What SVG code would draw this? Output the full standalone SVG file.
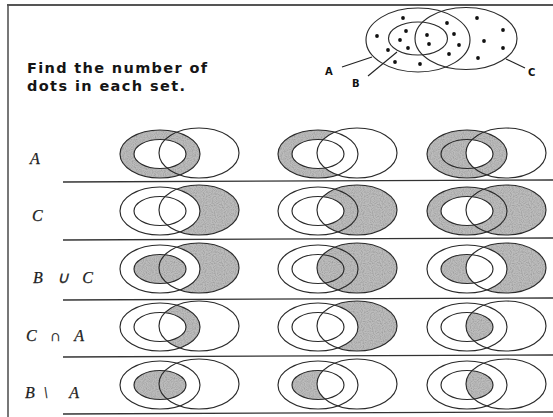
<svg xmlns="http://www.w3.org/2000/svg" width="553" height="417" viewBox="0 0 553 417">
<style>
  .ln{fill:none;stroke:#2a2a2a;stroke-width:1.15}
  .sh{fill:#bcbcbc;filter:url(#grain)}
  .hd{font-family:"DejaVu Sans",Verdana,sans-serif;font-weight:bold;font-size:14.5px;fill:#151515}
  .lb{font-family:"Liberation Serif","Times New Roman",serif;font-style:italic;font-size:16px;fill:#222;stroke:#222;stroke-width:0.25}
  .tag{font-family:"DejaVu Sans",Verdana,sans-serif;font-weight:bold;font-size:10px;fill:#111}
  .sep{stroke:#333;stroke-width:1.3}
  .frame{fill:none;stroke:#555}
  .dot{fill:#111}
  .lead{stroke:#222;stroke-width:1.1;fill:none}
</style>
<defs>
  <!-- speckled grey used for the shaded regions -->
  <filter id="grain" x="-5%" y="-5%" width="110%" height="110%">
    <feTurbulence type="fractalNoise" baseFrequency="0.9" numOctaves="1" seed="4" result="n"/>
    <feColorMatrix in="n" type="matrix" values="0 0 0 0 0.33  0 0 0 0 0.33  0 0 0 0 0.33  2.2 0 0 0 -0.85" result="dk"/>
    <feComposite in="dk" in2="SourceAlpha" operator="in" result="dk2"/>
    <feMerge><feMergeNode in="SourceGraphic"/><feMergeNode in="dk2"/></feMerge>
  </filter>

  <!-- set outlines in local coordinates: A (outer left), B (inner), C (right) -->
  <ellipse id="eA" cx="0" cy="0" rx="40" ry="24"/>
  <ellipse id="eB" cx="0" cy="0" rx="26" ry="14.5"/>
  <ellipse id="eC" cx="39" cy="-1" rx="40" ry="25"/>
  <g id="rings"><use href="#eA"/><use href="#eB"/><use href="#eC"/></g>
  <clipPath id="cC"><use href="#eC"/></clipPath>

  <mask id="mAnB" maskUnits="userSpaceOnUse" x="-60" y="-40" width="160" height="80">
    <use href="#eA" fill="#fff"/><use href="#eB" fill="#000"/>
  </mask>
  <mask id="mAnBC" maskUnits="userSpaceOnUse" x="-60" y="-40" width="160" height="80">
    <use href="#eA" fill="#fff"/><use href="#eB" fill="#000"/><use href="#eC" fill="#000"/>
  </mask>
  <mask id="mAnBiC" maskUnits="userSpaceOnUse" x="-60" y="-40" width="160" height="80">
    <use href="#eA" fill="#fff"/><use href="#eB" fill="#000" clip-path="url(#cC)"/>
  </mask>
  <mask id="mCnA" maskUnits="userSpaceOnUse" x="-60" y="-40" width="160" height="80">
    <use href="#eC" fill="#fff"/><use href="#eA" fill="#000"/>
  </mask>
  <mask id="mCnB" maskUnits="userSpaceOnUse" x="-60" y="-40" width="160" height="80">
    <use href="#eC" fill="#fff"/><use href="#eB" fill="#000"/>
  </mask>
  <mask id="mACnB" maskUnits="userSpaceOnUse" x="-60" y="-40" width="160" height="80">
    <use href="#eA" fill="#fff"/><use href="#eC" fill="#fff"/><use href="#eB" fill="#000"/>
  </mask>
  <mask id="mBuCnA" maskUnits="userSpaceOnUse" x="-60" y="-40" width="160" height="80">
    <use href="#eC" fill="#fff"/><use href="#eA" fill="#000"/><use href="#eB" fill="#fff"/>
  </mask>
  <mask id="mAiCnB" maskUnits="userSpaceOnUse" x="-60" y="-40" width="160" height="80">
    <use href="#eA" fill="#fff" clip-path="url(#cC)"/><use href="#eB" fill="#000"/>
  </mask>
  <mask id="mBnC" maskUnits="userSpaceOnUse" x="-60" y="-40" width="160" height="80">
    <use href="#eB" fill="#fff"/><use href="#eC" fill="#000"/>
  </mask>
  <mask id="mBiC" maskUnits="userSpaceOnUse" x="-60" y="-40" width="160" height="80">
    <use href="#eB" fill="#fff" clip-path="url(#cC)"/>
  </mask>
  <mask id="mB" maskUnits="userSpaceOnUse" x="-60" y="-40" width="160" height="80">
    <use href="#eB" fill="#fff"/>
  </mask>
  <mask id="mC" maskUnits="userSpaceOnUse" x="-60" y="-40" width="160" height="80">
    <use href="#eC" fill="#fff"/>
  </mask>
  <rect id="fillbox" x="-50" y="-32" width="140" height="64"/>
</defs>

<rect width="553" height="417" fill="#fff"/>

<!-- page frame -->
<line class="frame" x1="7" y1="5" x2="553" y2="5" stroke-width="2.2"/>
<line class="frame" x1="8" y1="4" x2="8" y2="417" stroke-width="1.6"/>

<!-- heading -->
<g id="heading">
  <text class="hd" x="27" y="73" textLength="180" lengthAdjust="spacing">Find the number of</text>
  <text class="hd" x="27" y="91" textLength="158" lengthAdjust="spacing">dots in each set.</text>
</g>

<!-- reference diagram with dots -->
<g id="key">
  <ellipse class="ln" cx="418" cy="40" rx="52" ry="32"/>
  <ellipse class="ln" cx="418" cy="38.5" rx="29.5" ry="16.5"/>
  <ellipse class="ln" cx="466" cy="38.5" rx="51" ry="31"/>
  <g class="dot">
    <circle cx="403" cy="18" r="1.9"/><circle cx="377" cy="36" r="1.9"/>
    <circle cx="388" cy="50" r="1.9"/><circle cx="406" cy="31" r="1.9"/>
    <circle cx="400" cy="40" r="1.9"/><circle cx="408" cy="48" r="1.9"/>
    <circle cx="395" cy="62" r="1.9"/><circle cx="420" cy="64" r="1.9"/>
    <circle cx="427" cy="35" r="1.9"/><circle cx="429" cy="44" r="1.9"/>
    <circle cx="447" cy="23" r="1.9"/><circle cx="454" cy="34" r="1.9"/>
    <circle cx="459" cy="45" r="1.9"/><circle cx="449" cy="54" r="1.9"/>
    <circle cx="477" cy="18" r="1.9"/><circle cx="503" cy="30" r="1.9"/>
    <circle cx="484" cy="41" r="1.9"/><circle cx="503" cy="48" r="1.9"/>
    <circle cx="478" cy="58" r="1.9"/>
  </g>
  <text class="tag" x="325" y="75">A</text>
  <text class="tag" x="352" y="87">B</text>
  <text class="tag" x="528" y="76">C</text>
</g>

<!-- leader lines from the set names -->
<g id="connectors">
  <path class="lead" d="M342 67 L372 57"/>
  <path class="lead" d="M368 76 L397 52"/>
  <path class="lead" d="M506 59 L525 68"/>
</g>

<!-- row separators -->
<g id="rules">
  <line class="sep" x1="63" y1="182" x2="553" y2="180"/>
  <line class="sep" x1="63" y1="240" x2="553" y2="238"/>
  <line class="sep" x1="63" y1="300" x2="553" y2="298"/>
  <line class="sep" x1="63" y1="357" x2="553" y2="355"/>
  <line class="sep" x1="63" y1="414" x2="553" y2="412"/>
</g>

<!-- row labels -->
<g id="labels">
  <text class="lb" x="30" y="164">A</text>
  <text class="lb" x="32" y="221">C</text>
  <text class="lb" x="33" y="283" textLength="60" lengthAdjust="spacing">B ∪ C</text>
  <text class="lb" x="26" y="341" textLength="58" lengthAdjust="spacing">C∩A</text>
  <text class="lb" x="25" y="398" textLength="54" lengthAdjust="spacing">B\ A</text>
</g>

<!-- row A -->
<g id="a1" transform="translate(160 154)"><use href="#fillbox" class="sh" mask="url(#mAnB)"/><use href="#rings" class="ln"/></g>
<g id="a2" transform="translate(318 154)"><use href="#fillbox" class="sh" mask="url(#mAnBC)"/><use href="#rings" class="ln"/></g>
<g id="a3" transform="translate(467 154)"><use href="#fillbox" class="sh" mask="url(#mAnBiC)"/><use href="#rings" class="ln"/></g>

<!-- row C -->
<g id="c1" transform="translate(160 211)"><use href="#fillbox" class="sh" mask="url(#mCnA)"/><use href="#rings" class="ln"/></g>
<g id="c2" transform="translate(318 211)"><use href="#fillbox" class="sh" mask="url(#mCnB)"/><use href="#rings" class="ln"/></g>
<g id="c3" transform="translate(467 211)"><use href="#fillbox" class="sh" mask="url(#mACnB)"/><use href="#rings" class="ln"/></g>

<!-- row B union C -->
<g id="bc1" transform="translate(160 269)"><use href="#fillbox" class="sh" mask="url(#mBuCnA)"/><use href="#rings" class="ln"/></g>
<g id="bc2" transform="translate(318 269)"><use href="#fillbox" class="sh" mask="url(#mC)"/><use href="#rings" class="ln"/></g>
<g id="bc3" transform="translate(467 269)"><use href="#fillbox" class="sh" mask="url(#mBnC)"/><use href="#fillbox" class="sh" mask="url(#mCnA)"/><use href="#rings" class="ln"/></g>

<!-- row C intersect A -->
<g id="ca1" transform="translate(160 327)"><use href="#fillbox" class="sh" mask="url(#mAiCnB)"/><use href="#rings" class="ln"/></g>
<g id="ca2" transform="translate(318 327)"><use href="#fillbox" class="sh" mask="url(#mCnA)"/><use href="#rings" class="ln"/></g>
<g id="ca3" transform="translate(467 327)"><use href="#fillbox" class="sh" mask="url(#mBiC)"/><use href="#rings" class="ln"/></g>

<!-- row B minus A -->
<g id="ba1" transform="translate(160 385)"><use href="#fillbox" class="sh" mask="url(#mB)"/><use href="#rings" class="ln"/></g>
<g id="ba2" transform="translate(318 385)"><use href="#fillbox" class="sh" mask="url(#mBnC)"/><use href="#rings" class="ln"/></g>
<g id="ba3" transform="translate(467 385)"><use href="#fillbox" class="sh" mask="url(#mBiC)"/><use href="#rings" class="ln"/></g>
</svg>
